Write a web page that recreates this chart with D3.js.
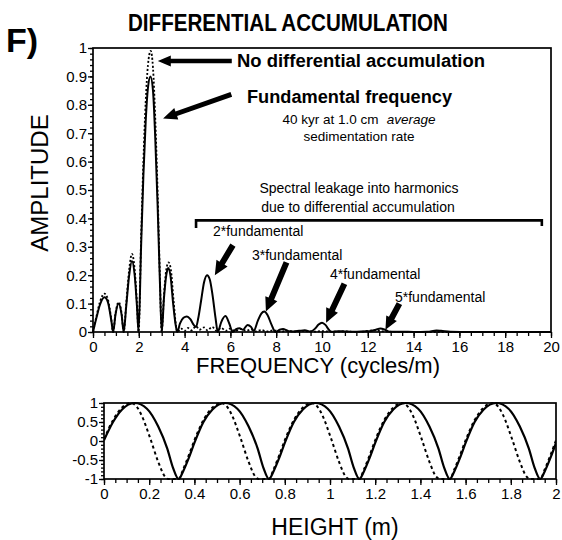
<!DOCTYPE html>
<html>
<head>
<meta charset="utf-8">
<script src="https://cdn.jsdelivr.net/npm/d3@7"></script>
<style>
  html, body { margin: 0; padding: 0; background: #fff; }
  svg { display: block; }
  text { font-family: "Liberation Sans", Arial, Helvetica, sans-serif; fill: #000; }
</style>
</head>
<body>
<svg id="chart" width="562" height="540"></svg>
<script>
// ---- Amplitude spectrum with differential accumulation (solid) ----
const freqDiff = [0, 0.15, 0.3, 0.5, 0.65, 0.8, 0.88, 0.98, 1.12, 1.25, 1.34, 1.45, 1.58, 1.7, 1.82, 1.92, 1.99,
  2.1, 2.2, 2.3, 2.4, 2.51, 2.62, 2.72, 2.82, 2.92, 3.0, 3.1, 3.2, 3.28, 3.38, 3.5, 3.62, 3.68,
  3.8, 3.95, 4.1, 4.25, 4.4, 4.5, 4.6, 4.72, 4.85, 4.98, 5.1, 5.22, 5.35, 5.45, 5.6, 5.78, 5.95, 6.1,
  6.25, 6.4, 6.55, 6.75, 6.9, 7.02, 7.2, 7.35, 7.48, 7.62, 7.8, 7.97, 8.15, 8.3, 8.5, 8.75, 9.0, 9.25,
  9.5, 9.7, 9.85, 10.0, 10.15, 10.3, 10.42, 10.7, 11.0, 11.4, 11.8, 12.1, 12.35, 12.55, 12.75, 12.95,
  13.5, 14.0, 14.6, 15.0, 15.2, 15.6, 16.5, 20];
const ampDiff = [0, 0.05, 0.095, 0.122, 0.105, 0.04, 0, 0.06, 0.10, 0.06, 0, 0.09, 0.2, 0.25, 0.2, 0.09, 0,
  0.3, 0.55, 0.74, 0.86, 0.90, 0.85, 0.68, 0.45, 0.18, 0, 0.12, 0.2, 0.225, 0.2, 0.1, 0.02, 0,
  0.03, 0.05, 0.055, 0.045, 0.025, 0.018, 0.05, 0.11, 0.175, 0.20, 0.185, 0.13, 0.05, 0, 0.035, 0.056, 0.03, 0,
  0.01, 0.013, 0.008, 0.025, 0.018, 0.004, 0.04, 0.065, 0.072, 0.06, 0.025, 0, 0.008, 0.011, 0.004, 0.002, 0.004, 0.006,
  0.002, 0.012, 0.026, 0.033, 0.025, 0.008, 0, 0.003, 0.002, 0.001, 0.002, 0.003, 0.008, 0.012, 0.008, 0.001,
  0.001, 0, 0.001, 0.005, 0.004, 0.001, 0, 0];

// ---- Amplitude spectrum without differential accumulation (dotted) ----
const freqNoDiff = [0, 0.15, 0.3, 0.5, 0.65, 0.8, 0.88, 0.98, 1.12, 1.25, 1.34, 1.45, 1.58, 1.7, 1.82, 1.92, 1.99,
  2.1, 2.2, 2.3, 2.4, 2.52, 2.62, 2.72, 2.82, 2.92, 3.0, 3.1, 3.2, 3.3, 3.4, 3.52, 3.62, 3.68,
  3.85, 4.0, 4.15, 4.3, 4.5, 4.65, 4.85, 5.0, 5.2, 5.4, 5.6, 5.8, 6.0, 6.2, 6.45, 6.7, 6.9, 7.1, 7.35,
  7.6, 7.9, 8.2, 8.5, 8.8, 9.2, 9.6, 10.0, 10.5, 11.0, 11.5, 12.3, 12.7, 13.5, 20];
const ampNoDiff = [0, 0.055, 0.105, 0.135, 0.115, 0.045, 0, 0.065, 0.105, 0.065, 0, 0.1, 0.22, 0.275, 0.22, 0.1, 0,
  0.33, 0.6, 0.81, 0.94, 0.99, 0.93, 0.75, 0.5, 0.2, 0, 0.13, 0.22, 0.245, 0.22, 0.11, 0.025, 0,
  0.012, 0.004, 0.014, 0.006, 0.02, 0.008, 0.016, 0.006, 0.018, 0.004, 0.014, 0.004, 0.012, 0.003, 0.011, 0.004, 0.009, 0.002, 0.007,
  0.002, 0.006, 0.001, 0.005, 0.001, 0.004, 0.001, 0.003, 0.001, 0.002, 0, 0.006, 0.002, 0, 0];

// ---- Signal in the height domain ----
const heightSolid = [0, 0.04, 0.08, 0.135, 0.19, 0.24, 0.28, 0.305, 0.33,
  0.35, 0.375, 0.40, 0.44, 0.48, 0.535, 0.59, 0.64, 0.68, 0.705, 0.73,
  0.75, 0.775, 0.80, 0.84, 0.88, 0.935, 0.99, 1.04, 1.08, 1.105, 1.13,
  1.15, 1.175, 1.20, 1.24, 1.28, 1.335, 1.39, 1.44, 1.48, 1.505, 1.53,
  1.55, 1.575, 1.60, 1.64, 1.68, 1.735, 1.79, 1.84, 1.88, 1.905, 1.93,
  1.95, 1.975, 2.0];
const valueSolid = [0.02, 0.5, 0.83, 1, 0.85, 0.38, -0.2, -0.7, -1,
  -0.8, -0.45, -0.05, 0.5, 0.83, 1, 0.85, 0.38, -0.2, -0.7, -1,
  -0.8, -0.45, -0.05, 0.5, 0.83, 1, 0.85, 0.38, -0.2, -0.7, -1,
  -0.8, -0.45, -0.05, 0.5, 0.83, 1, 0.85, 0.38, -0.2, -0.7, -1,
  -0.8, -0.45, -0.05, 0.5, 0.83, 1, 0.85, 0.38, -0.2, -0.7, -1,
  -0.8, -0.45, -0.05];
const heightDotted = [0, 0.04, 0.08, 0.12, 0.145, 0.166, 0.204, 0.24, 0.27, 0.285, 0.33,
  0.35, 0.375, 0.40, 0.44, 0.48, 0.52, 0.545, 0.566, 0.604, 0.64, 0.67, 0.685, 0.73,
  0.75, 0.775, 0.80, 0.84, 0.88, 0.92, 0.945, 0.966, 1.004, 1.04, 1.07, 1.085, 1.13,
  1.15, 1.175, 1.20, 1.24, 1.28, 1.32, 1.345, 1.366, 1.404, 1.44, 1.47, 1.485, 1.53,
  1.55, 1.575, 1.60, 1.64, 1.68, 1.72, 1.745, 1.766, 1.804, 1.84, 1.87, 1.885, 1.93,
  1.95, 1.975, 2.0];
const valueDotted = [0.05, 0.55, 0.88, 1, 0.9, 0.68, 0.08, -0.55, -0.94, -1, -1,
  -0.75, -0.38, 0.02, 0.55, 0.88, 1, 0.9, 0.68, 0.08, -0.55, -0.94, -1, -1,
  -0.75, -0.38, 0.02, 0.55, 0.88, 1, 0.9, 0.68, 0.08, -0.55, -0.94, -1, -1,
  -0.75, -0.38, 0.02, 0.55, 0.88, 1, 0.9, 0.68, 0.08, -0.55, -0.94, -1, -1,
  -0.75, -0.38, 0.02, 0.55, 0.88, 1, 0.9, 0.68, 0.08, -0.55, -0.94, -1, -1,
  -0.75, -0.38, 0.02];

// ---- Tick values ----
const specXTicks = [0, 2, 4, 6, 8, 10, 12, 14, 16, 18, 20];
const specXMinor = d3.range(0, 20.001, 0.5);
const specYTicks = [0, 0.1, 0.2, 0.3, 0.4, 0.5, 0.6, 0.7, 0.8, 0.9, 1];
const specYMinor = d3.range(0, 1.001, 0.02);
const hXTicks = [0, 0.2, 0.4, 0.6, 0.8, 1, 1.2, 1.4, 1.6, 1.8, 2];
const hXMinor = d3.range(0, 2.001, 0.05);
const hYTicks = [-1, -0.5, 0, 0.5, 1];
const hYMinor = d3.range(-1, 1.001, 0.1);

const svg = d3.select("#chart");
const fmt = d => String(+d.toFixed(2)).replace("\u2212", "-");

// ================= Spectrum panel =================
const x = d3.scaleLinear().domain([0, 20]).range([93, 551]);
const y = d3.scaleLinear().domain([0, 1]).range([332, 48]);

function styleAxis(g) {
  g.select(".domain").remove();
  g.selectAll("line").attr("stroke", "#000").attr("stroke-width", 1.3);
  g.selectAll("text").style("font-size", "15px").style("font-family", '"Liberation Sans", Arial, sans-serif');
}

svg.append("g").attr("transform", `translate(0,${y(0)})`)
  .call(d3.axisBottom(x).tickValues(specXMinor).tickSize(4).tickFormat(""))
  .call(styleAxis);
svg.append("g").attr("transform", `translate(0,${y(0)})`)
  .call(d3.axisBottom(x).tickValues(specXTicks).tickSize(6).tickPadding(3).tickFormat(fmt))
  .call(styleAxis);
svg.append("g").attr("transform", `translate(${x(0)},0)`)
  .call(d3.axisLeft(y).tickValues(specYMinor).tickSize(3).tickFormat(""))
  .call(styleAxis);
svg.append("g").attr("transform", `translate(${x(0)},0)`)
  .call(d3.axisLeft(y).tickValues(specYTicks).tickSize(5).tickPadding(1).tickFormat(fmt))
  .call(styleAxis);

svg.append("rect")
  .attr("x", x(0)).attr("y", y(1)).attr("width", x(20) - x(0)).attr("height", y(0) - y(1))
  .attr("fill", "none").attr("stroke", "#000").attr("stroke-width", 1.7);

const specLine = (fs, as) => d3.line()
  .x((d, i) => x(fs[i])).y((d, i) => y(as[i]))
  .curve(d3.curveMonotoneX)(as);

svg.append("path").attr("d", specLine(freqNoDiff, ampNoDiff))
  .attr("fill", "none").attr("stroke", "#000").attr("stroke-width", 1.8)
  .attr("stroke-dasharray", "2,2");
svg.append("path").attr("d", specLine(freqDiff, ampDiff))
  .attr("fill", "none").attr("stroke", "#000").attr("stroke-width", 2);

// ================= Height panel =================
const hx = d3.scaleLinear().domain([0, 2]).range([104, 556]);
const hy = d3.scaleLinear().domain([-1, 1]).range([479, 403]);

svg.append("g").attr("transform", `translate(0,${hy(-1)})`)
  .call(d3.axisBottom(hx).tickValues(hXMinor).tickSize(4).tickFormat(""))
  .call(styleAxis);
svg.append("g").attr("transform", `translate(0,${hy(-1)})`)
  .call(d3.axisBottom(hx).tickValues(hXTicks).tickSize(6).tickPadding(3).tickFormat(fmt))
  .call(styleAxis);
svg.append("g").attr("transform", `translate(${hx(0)},0)`)
  .call(d3.axisLeft(hy).tickValues(hYMinor).tickSize(3).tickFormat(""))
  .call(styleAxis);
svg.append("g").attr("transform", `translate(${hx(0)},0)`)
  .call(d3.axisLeft(hy).tickValues(hYTicks).tickSize(5).tickPadding(1).tickFormat(fmt))
  .call(styleAxis);

svg.append("defs").append("clipPath").attr("id", "hclip")
  .append("rect").attr("x", hx(0)).attr("y", hy(1) - 2).attr("width", hx(2) - hx(0)).attr("height", hy(-1) - hy(1) + 4);

const hLine = (hs, vs) => d3.line()
  .x((d, i) => hx(hs[i])).y((d, i) => hy(vs[i]))
  .curve(d3.curveMonotoneX)(vs);

const hg = svg.append("g").attr("clip-path", "url(#hclip)");
hg.append("path").attr("d", hLine(heightDotted, valueDotted))
  .attr("fill", "none").attr("stroke", "#000").attr("stroke-width", 2)
  .attr("stroke-dasharray", "3,3");
hg.append("path").attr("d", hLine(heightSolid, valueSolid))
  .attr("fill", "none").attr("stroke", "#000").attr("stroke-width", 2.2);

svg.append("rect")
  .attr("x", hx(0)).attr("y", hy(1)).attr("width", hx(2) - hx(0)).attr("height", hy(-1) - hy(1))
  .attr("fill", "none").attr("stroke", "#000").attr("stroke-width", 1.7);

// ================= Titles =================
svg.append("text").attr("x", 6).attr("y", 52)
  .style("font-size", "34px").style("font-weight", "bold").text("F)");
svg.append("text").attr("x", 288).attr("y", 31).attr("text-anchor", "middle")
  .attr("textLength", 320).attr("lengthAdjust", "spacingAndGlyphs")
  .style("font-size", "23px").style("font-weight", "bold").text("DIFFERENTIAL ACCUMULATION");
svg.append("text").attr("transform", "translate(48,183) rotate(-90)").attr("text-anchor", "middle")
  .style("font-size", "24px").text("AMPLITUDE");
svg.append("text").attr("x", 318).attr("y", 373).attr("text-anchor", "middle")
  .style("font-size", "22px").text("FREQUENCY (cycles/m)");
svg.append("text").attr("x", 335).attr("y", 535).attr("text-anchor", "middle")
  .style("font-size", "23px").text("HEIGHT (m)");

// ================= Annotations =================
function arrow(f1, a1, f2, a2, sw, hl, hw) {
  const x1 = x(f1), y1 = y(a1), x2 = x(f2), y2 = y(a2);
  const dx = x2 - x1, dy = y2 - y1, len = Math.hypot(dx, dy);
  const ux = dx / len, uy = dy / len, nx = -uy, ny = ux;
  const bx = x2 - ux * hl, by = y2 - uy * hl;
  const pts = [
    [x1 + nx * sw / 2, y1 + ny * sw / 2],
    [bx + nx * sw / 2, by + ny * sw / 2],
    [bx + nx * hw / 2, by + ny * hw / 2],
    [x2, y2],
    [bx - nx * hw / 2, by - ny * hw / 2],
    [bx - nx * sw / 2, by - ny * sw / 2],
    [x1 - nx * sw / 2, y1 - ny * sw / 2]
  ];
  svg.append("polygon").attr("points", pts.map(p => p.join(",")).join(" ")).attr("fill", "#000");
}

arrow(6.06, 0.954, 2.83, 0.954, 4.5, 13, 11);
arrow(6.04, 0.837, 3.06, 0.752, 5, 14, 12);
arrow(6.11, 0.306, 5.32, 0.20, 6, 14, 13);
arrow(8.45, 0.245, 7.55, 0.072, 6, 14, 13);
arrow(10.98, 0.17, 10.18, 0.033, 6, 14, 13);
arrow(13.38, 0.10, 12.77, 0.008, 6, 13, 12);

svg.append("text").attr("x", 237).attr("y", 67)
  .attr("textLength", 248).attr("lengthAdjust", "spacingAndGlyphs")
  .style("font-size", "18px").style("font-weight", "bold").text("No differential accumulation");
svg.append("text").attr("x", 247).attr("y", 103)
  .attr("textLength", 205).attr("lengthAdjust", "spacingAndGlyphs")
  .style("font-size", "18px").style("font-weight", "bold").text("Fundamental frequency");

const t40 = svg.append("text").attr("x", 359).attr("y", 124).attr("text-anchor", "middle")
  .style("font-size", "13.5px");
t40.append("tspan").text("40 kyr at 1.0 cm");
t40.append("tspan").attr("dx", 8).style("font-style", "italic").text("average");
svg.append("text").attr("x", 359).attr("y", 141).attr("text-anchor", "middle")
  .style("font-size", "13.5px").text("sedimentation rate");

svg.append("text").attr("x", 359).attr("y", 193).attr("text-anchor", "middle")
  .style("font-size", "14px").text("Spectral leakage into harmonics");
svg.append("text").attr("x", 358).attr("y", 211.5).attr("text-anchor", "middle")
  .style("font-size", "14px").text("due to differential accumulation");

// bracket spanning the harmonic frequencies
svg.append("path")
  .attr("d", `M${x(4.5)},${y(0.366)} V${y(0.393)} H${x(19.6)} V${y(0.373)}`)
  .attr("fill", "none").attr("stroke", "#000").attr("stroke-width", 2.6);

svg.append("text").attr("x", 213).attr("y", 236).style("font-size", "14px").text("2*fundamental");
svg.append("text").attr("x", 252).attr("y", 259.5).style("font-size", "14px").text("3*fundamental");
svg.append("text").attr("x", 330).attr("y", 279).style("font-size", "14px").text("4*fundamental");
svg.append("text").attr("x", 395).attr("y", 302).style("font-size", "14px").text("5*fundamental");
</script>
</body>
</html>
